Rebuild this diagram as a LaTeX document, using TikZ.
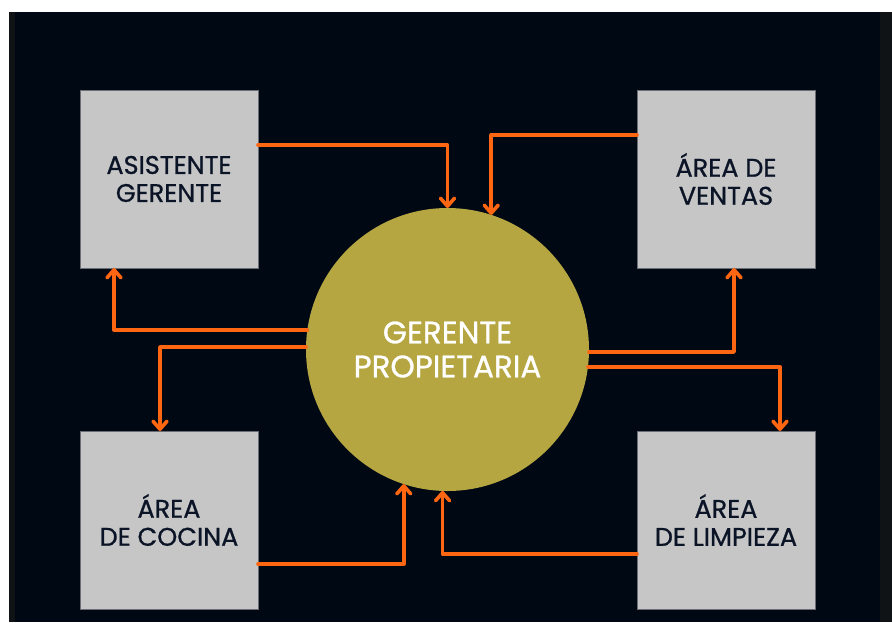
\documentclass[tikz,border=0pt]{standalone}
\usepackage{fontspec}
\setmainfont{Poppins}[FakeBold=0.9]
\usetikzlibrary{arrows.meta,calc}
\definecolor{fondo}{HTML}{000814}
\definecolor{franja}{HTML}{0F1316}
\definecolor{naranja}{HTML}{FF6611}
\definecolor{oliva}{HTML}{B5A642}
\definecolor{gris}{HTML}{C6C6C6}
\definecolor{grisborde}{HTML}{6B6E75}
\definecolor{tinta}{HTML}{0B1426}
\tikzset{
	caja/.style={draw=grisborde, line width=1pt, fill=gris, minimum width=178pt, minimum height=178pt, inner sep=0pt, outer sep=0pt, align=center, text=tinta, font=\fontsize{25.5}{28}\selectfont},
	centro/.style={circle, fill=oliva, minimum size=283pt, inner sep=0pt, outer sep=0pt, align=center, text=white, font=\fontsize{31}{34}\selectfont},
	flecha/.style={draw=naranja, line width=3.6pt, line cap=round, line join=round, -{Straight Barb[length=8pt,width=14pt,round]}},
}

\begin{document}
\begin{tikzpicture}[x=1pt,y=-1pt]
		%%%%% START %%%%%
		
		\useasboundingbox (0,0) rectangle (892,622);
		\fill[white] (0,0) rectangle (892,622);
		\fill[franja] (9,12) rectangle (892,622);
		\fill[fondo] (15,12) rectangle (880,622);
		
		\node[caja] (asistente) at (169,179) {ASISTENTE\\GERENTE};
		\node[caja] (ventas) at (726,179) {ÁREA DE\\VENTAS};
		\node[caja] (cocina) at (169,520) {ÁREA\\DE COCINA};
		\node[caja] (limpieza) at (726,520) {ÁREA\\DE LIMPIEZA};
		
		\node[centro] (gerente) at (447.5,349.5) {GERENTE\\PROPIETARIA};
		
		\draw[flecha] ([yshift=34pt]asistente.east) -| (gerente.north);
		\draw[flecha] ([yshift=44pt]ventas.west) -| (gerente.72);
		
		\draw[flecha] (gerente.172.5) -| ([xshift=-55pt]asistente.south);
		\draw[flecha] (gerente.179) -| ([xshift=-9pt]cocina.north);
		
		\draw[flecha] (gerente.-1) -| ([xshift=8pt]ventas.south);
		\draw[flecha] (gerente.-7.5) -| ([xshift=54pt]limpieza.north);
		
		\draw[flecha] ([yshift=-44pt]cocina.east) -| (gerente.252);
		\draw[flecha] ([yshift=-34pt]limpieza.west) -| (gerente.268.6);
		
		%%%%% END %%%%%
	\end{tikzpicture}
\end{document}
